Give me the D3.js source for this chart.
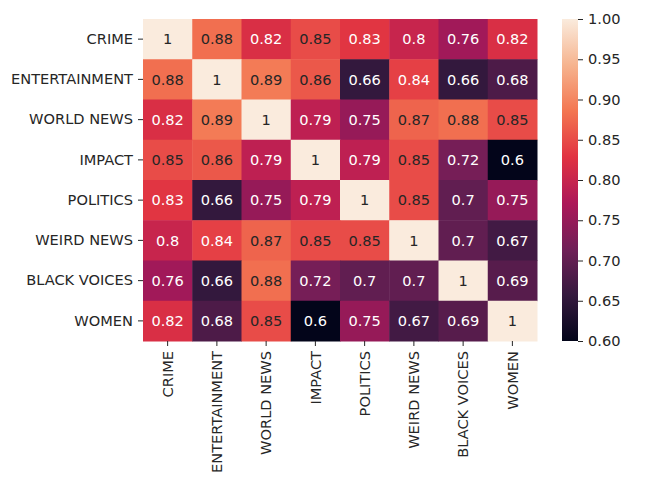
<!DOCTYPE html>
<html>
<head>
<meta charset="utf-8">
<script src="https://cdn.jsdelivr.net/npm/d3@7"></script>
<style>
  body { margin: 0; background: #fff; }
  svg text { font-family: "DejaVu Sans", sans-serif; fill: #262626; }
</style>
</head>
<body>
<div id="heat"></div>
<script>
// categories (rows and columns are the same)
var categories = ["CRIME", "ENTERTAINMENT", "WORLD NEWS", "IMPACT", "POLITICS", "WEIRD NEWS", "BLACK VOICES", "WOMEN"];

// correlation rows, as printed in the cells
var crimeRow        = [1, 0.88, 0.82, 0.85, 0.83, 0.80, 0.76, 0.82];
var entertainRow    = [0.88, 1, 0.89, 0.86, 0.655, 0.84, 0.655, 0.68];
var worldNewsRow    = [0.82, 0.89, 1, 0.79, 0.75, 0.87, 0.88, 0.85];
var impactRow       = [0.85, 0.86, 0.79, 1, 0.79, 0.85, 0.72, 0.60];
var politicsRow     = [0.83, 0.655, 0.75, 0.79, 1, 0.85, 0.70, 0.75];
var weirdNewsRow    = [0.80, 0.84, 0.87, 0.85, 0.85, 1, 0.70, 0.67];
var blackVoicesRow  = [0.76, 0.655, 0.88, 0.72, 0.70, 0.70, 1, 0.69];
var womenRow        = [0.82, 0.68, 0.85, 0.60, 0.75, 0.67, 0.69, 1];
var matrix = [crimeRow, entertainRow, worldNewsRow, impactRow, politicsRow, weirdNewsRow, blackVoicesRow, womenRow];

// colorbar ticks
var cbarTicks = [0.60, 0.65, 0.70, 0.75, 0.80, 0.85, 0.90, 0.95, 1.00];

// "rocket" colormap stops
var rocketPos = [0, 1/7, 2/7, 3/7, 4/7, 5/7, 6/7, 1];
var rocketHex = ["#03051a", "#35193e", "#701f57", "#ad1759", "#e13342", "#f37651", "#f6b48f", "#faebdd"];

var w = 649, h = 493;
var box = { left: 143, right: 537, top: 19, bottom: 341 };
var vmin = 0.60, vmax = 1.00;
var fontSize = "14.6px";

var svg = d3.select("#heat").append("svg")
    .attr("width", w)
    .attr("height", h);

var xscale = d3.scaleBand().domain(categories).range([box.left, box.right]);
var yscale = d3.scaleBand().domain(categories).range([box.top, box.bottom]);

var rocket = d3.scaleLinear().domain(rocketPos).range(rocketHex).interpolate(d3.interpolateRgb);
var color = v => rocket((v - vmin) / (vmax - vmin));
var fmt = d3.format(".2~g");

// flatten matrix into cells
var cells = [];
matrix.forEach((row, i) => row.forEach((v, j) => cells.push({ r: categories[i], c: categories[j], v: v })));

svg.selectAll("rect.cell")
   .data(cells)
   .enter()
   .append("rect")
   .attr("class", "cell")
   .attr("x", d => xscale(d.c))
   .attr("y", d => yscale(d.r))
   .attr("width", xscale.bandwidth() + 0.5)
   .attr("height", yscale.bandwidth() + 0.5)
   .attr("fill", d => color(d.v));

// annotations: light text on dark cells
svg.selectAll("text.annot")
   .data(cells)
   .enter()
   .append("text")
   .attr("class", "annot")
   .attr("x", d => xscale(d.c) + xscale.bandwidth() / 2)
   .attr("y", d => yscale(d.r) + yscale.bandwidth() / 2)
   .attr("text-anchor", "middle")
   .attr("dy", "0.36em")
   .style("font-size", fontSize)
   .style("fill", d => {
       var c = d3.rgb(color(d.v));
       var lum = 0.2126 * c.r + 0.7152 * c.g + 0.0722 * c.b;
       return lum > 0.408 * 255 ? "#262626" : "#ffffff";
   })
   .text(d => fmt(+d.v.toFixed(2)));

// y axis
var yAxis = svg.append("g")
   .attr("transform", `translate(${box.left}, 0)`)
   .call(d3.axisLeft(yscale).tickSize(5).tickPadding(5));
yAxis.select(".domain").remove();
yAxis.selectAll("line").attr("stroke", "#262626");
yAxis.selectAll("text").style("font-size", fontSize).attr("font-family", null);

// x axis, labels rotated
var xAxis = svg.append("g")
   .attr("transform", `translate(0, ${box.bottom})`)
   .call(d3.axisBottom(xscale).tickSize(5).tickPadding(5));
xAxis.select(".domain").remove();
xAxis.selectAll("line").attr("stroke", "#262626");
xAxis.selectAll("text")
   .style("font-size", fontSize)
   .attr("font-family", null)
   .attr("transform", "rotate(-90)")
   .attr("x", -10)
   .attr("y", 0)
   .attr("dy", "0.35em")
   .style("text-anchor", "end");

// colorbar
var cbar = { x: 562, w: 16 };
var grad = svg.append("defs").append("linearGradient")
   .attr("id", "rocketGrad")
   .attr("x1", 0).attr("y1", 1).attr("x2", 0).attr("y2", 0);
grad.selectAll("stop")
   .data(rocketPos)
   .enter()
   .append("stop")
   .attr("offset", d => d)
   .attr("stop-color", (d, i) => rocketHex[i]);

svg.append("rect")
   .attr("x", cbar.x)
   .attr("y", box.top)
   .attr("width", cbar.w)
   .attr("height", box.bottom - box.top)
   .attr("fill", "url(#rocketGrad)");

var cscale = d3.scaleLinear().domain([vmin, vmax]).range([box.bottom, box.top]);
var cAxis = svg.append("g")
   .attr("transform", `translate(${cbar.x + cbar.w}, 0)`)
   .call(d3.axisRight(cscale).tickValues(cbarTicks).tickFormat(d3.format(".2f")).tickSize(5).tickPadding(5));
cAxis.select(".domain").remove();
cAxis.selectAll("line").attr("stroke", "#262626");
cAxis.selectAll("text").style("font-size", fontSize).attr("font-family", null);
</script>
</body>
</html>
